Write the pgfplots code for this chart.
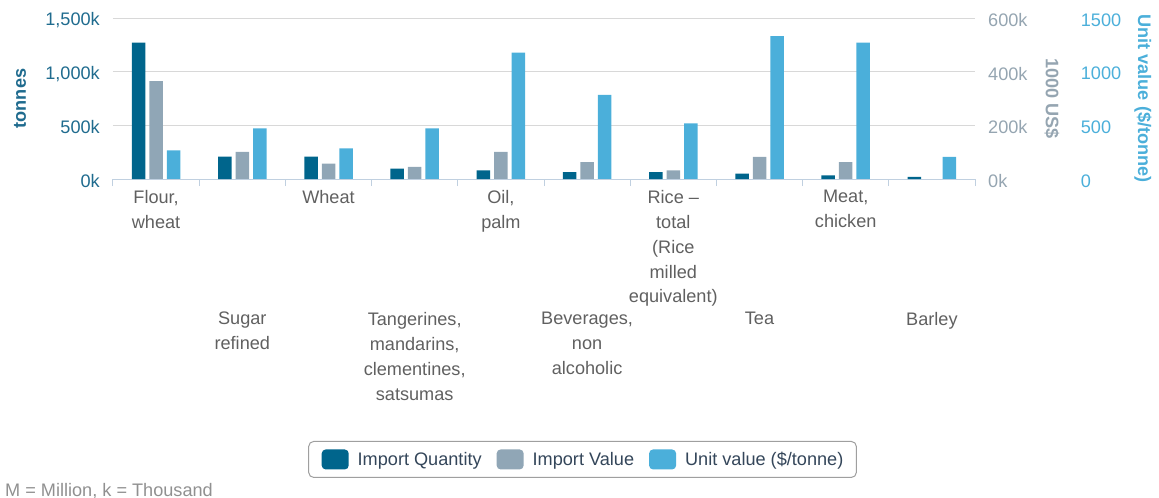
\documentclass[border=0pt]{standalone}
\usepackage{pgfplots}
\pgfplotsset{compat=1.18}
\usepackage{fontspec}
\setmainfont{Liberation Sans}

\definecolor{qcol}{HTML}{00658C}
\definecolor{vcol}{HTML}{90A6B6}
\definecolor{ucol}{HTML}{4BAFDA}
\definecolor{axcol}{HTML}{C0D0E0}
\definecolor{gridcol}{HTML}{D8D8D8}
\definecolor{xlbl}{HTML}{606060}
\definecolor{qlbl}{HTML}{1F6B8E}
\definecolor{vlbl}{HTML}{95A5B1}
\definecolor{leglbl}{HTML}{34465A}
\definecolor{note}{HTML}{909090}
\newcommand{\chartfont}{\fontsize{18.2}{25}\selectfont}

% values in thousands (tonnes, 1000 US$) and $/tonne
\pgfplotstableread{
x qty   val   unit
0 1270  365   267
1 208   101   472
2 208   57    286
3 96    45    472
4 81    101   1177
5 65    63    783
6 65    32    519
7 49    82    1332
8 34    63    1270
9 19    0     205
}\imports

\pgfplotsset{
  base/.style={
    scale only axis, width=862bp, height=161bp,
    at={(0,0)}, anchor=south west,
    xmin=-0.5, xmax=9.5, ymin=0,
    tick label style={font=\chartfont, inner sep=0pt},
    major tick length=0pt,
  },
  bars/.style={ybar, bar width=13.5bp, draw=none},
}

\begin{document}
\begin{tikzpicture}
\useasboundingbox (-113bp,-319bp) rectangle (1046bp,179bp);

% tonnes
\begin{axis}[base,
  ymax=1500,
  axis x line*=bottom, axis y line*=left,
  x axis line style={axcol, line width=1bp},
  y axis line style={draw=none},
  ytick={0,500,1000,1500}, yticklabels={{0k},{500k},{1,000k},{1,500k}},
  yticklabel style={color=qlbl, anchor=east, xshift=-13bp, yshift=-2bp},
  ymajorgrids, grid style={gridcol, line width=1bp},
  xtick={0,2,4,6,8},
  xticklabels={{Flour,\\wheat},{Wheat},{Oil,\\palm},{Rice –\\total\\(Rice\\milled\\equivalent)},{Meat,\\chicken}},
  xticklabel style={align=center, color=xlbl, anchor=north, yshift=-11bp},
  extra x ticks={1,3,5,7,9},
  extra x tick labels={{Sugar\\refined},{Tangerines,\\mandarins,\\clementines,\\satsumas},{Beverages,\\non\\alcoholic},{Tea},{Barley}},
  extra x tick style={xticklabel style={yshift=-122bp}, grid=none},
  minor xtick={-0.5,0.5,...,9.5},
  minor tick length=7bp, tick align=outside,
  minor x tick style={axcol, line width=1bp},
  ylabel={tonnes},
  every axis y label/.style={at={(axis description cs:-0.1079,0.5)}, rotate=90, anchor=center, color=qlbl, font=\chartfont\bfseries},
  legend image code/.code={\fill[#1, draw=none, rounded corners=4bp] (0bp,-10bp) rectangle (27bp,10bp);},
  legend columns=3, legend cell align=left,
  legend style={at={(axis description cs:0.5447,-1.627)}, anchor=north,
    draw=gray!75, line width=1bp, rounded corners=5bp,
    inner xsep=13bp, inner ysep=8bp,
    font=\chartfont, text=leglbl,
    nodes={inner sep=0pt},
    /tikz/every odd column/.append style={column sep=9bp},
    /tikz/every even column/.append style={column sep=15bp}},
]
\addplot[bars, fill=qcol, bar shift=-17.5bp, forget plot] table[x=x, y=qty] {\imports};
\addlegendimage{fill=qcol}
\addlegendentry{Import Quantity}
\addlegendimage{fill=vcol}
\addlegendentry{Import Value}
\addlegendimage{fill=ucol}
\addlegendentry{Unit value (\$/tonne)}
\end{axis}

% 1000 US$
\begin{axis}[base,
  ymax=600,
  axis x line=none, axis y line*=right,
  y axis line style={draw=none},
  ytick={0,200,400,600}, yticklabels={{0k},{200k},{400k},{600k}},
  yticklabel style={color=vlbl, anchor=west, xshift=13bp, yshift=-2bp},
  ylabel={1000 US\$},
  every axis y label/.style={at={(axis description cs:1.0893,0.5)}, rotate=-90, anchor=center, color=vlbl, font=\chartfont\bfseries},
]
\addplot[bars, fill=vcol, bar shift=0bp] table[x=x, y=val] {\imports};
\end{axis}

% $/tonne
\begin{axis}[base,
  ymax=1500,
  axis x line=none, axis y line*=right,
  y axis line style={draw=none},
  ytick={0,500,1000,1500}, yticklabels={{0},{500},{1000},{1500}},
  yticklabel style={color=ucol, anchor=west, xshift=105.7bp, yshift=-2bp},
  ylabel={Unit value (\$/tonne)},
  every axis y label/.style={at={(axis description cs:1.1949,0.5)}, rotate=-90, anchor=center, color=ucol, font=\chartfont\bfseries},
]
\addplot[bars, fill=ucol, bar shift=17.5bp] table[x=x, y=unit] {\imports};
\end{axis}

\node[anchor=base west, font=\chartfont, text=note, inner sep=0pt] at (-108bp,-317bp) {M = Million, k = Thousand};
\end{tikzpicture}
\end{document}
